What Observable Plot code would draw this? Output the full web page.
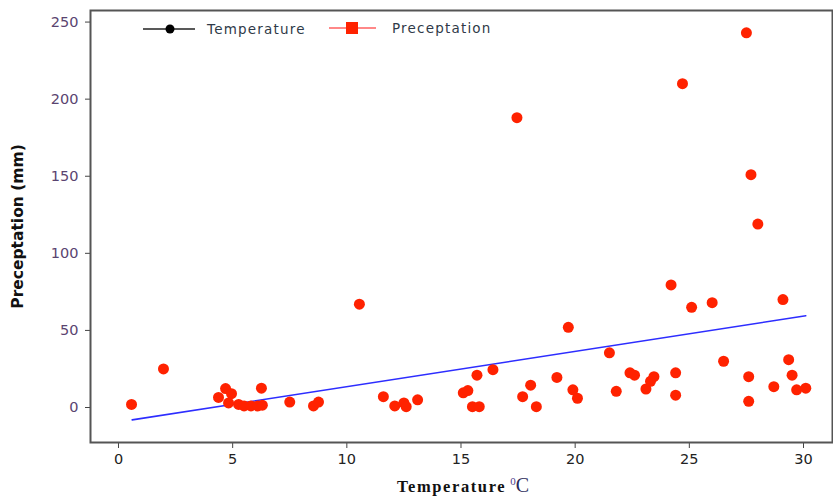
<!DOCTYPE html>
<html>
<head>
<meta charset="utf-8">
<script src="https://cdn.jsdelivr.net/npm/d3@7"></script>
<script src="https://cdn.jsdelivr.net/npm/@observablehq/plot@0.6"></script>
<style>
  html, body { margin: 0; padding: 0; background: white; }
  #wrap { position: relative; width: 833px; height: 497px; }
  #legend { position: absolute; left: 0; top: 0; pointer-events: none; }
</style>
</head>
<body>
<div id="wrap"></div>
<script>
// Temperature (°C) of each observation
const temperature = [
  0.57, 1.97, 4.38, 4.69, 4.95, 4.82, 5.26, 5.5, 5.8, 6.1, 6.26, 6.3, 7.5, 8.54, 8.76,
  10.55, 11.6, 12.1, 12.5, 12.6, 13.1, 15.1, 15.3, 15.5, 15.8, 15.7, 16.4, 17.45, 17.7,
  18.05, 18.3, 19.2, 19.7, 19.9, 20.1, 21.5, 21.8, 22.4, 22.6, 23.1, 23.3, 23.45, 24.2,
  24.4, 24.4, 24.7, 25.1, 26.0, 26.5, 27.5, 27.6, 27.6, 27.7, 28.0, 28.7, 29.1, 29.35,
  29.5, 29.7, 30.1
];
// Precipitation (mm) of each observation
const preceptation = [
  2, 25, 6.5, 12.3, 9, 3, 2, 1, 1, 1, 12.5, 1.5, 3.5, 1, 3.5,
  67, 7, 1, 3, 0.5, 5, 9.5, 11, 0.5, 0.5, 21, 24.5, 188, 7,
  14.5, 0.5, 19.5, 52, 11.5, 6, 35.5, 10.5, 22.5, 21, 12, 17, 20, 79.5,
  22.5, 8, 210, 65, 68, 30, 243, 20, 4, 151, 119, 13.5, 70, 31,
  21, 11.5, 12.5
];
// Fitted trend line end points
const trendX = [0.6, 30.1];
const trendY = [-8.0, 59.5];
// Tick values
const xTicks = [0, 5, 10, 15, 20, 25, 30];
const yTicks = [0, 50, 100, 150, 200, 250];

const points = temperature.map((t, i) => ({t, p: preceptation[i]}));
const trend = trendX.map((t, i) => ({t, p: trendY[i]}));

const chart = Plot.plot({
  width: 833,
  height: 497,
  marginLeft: 90,
  marginTop: 10,
  marginBottom: 55,
  marginRight: 1,
  style: {fontFamily: "DejaVu Sans, sans-serif", fontSize: "14.5px", background: "white"},
  x: {domain: [-1.226, 31.27]},
  y: {domain: [-22.7, 257.5]},
  marks: [
    Plot.axisX({ticks: xTicks, tickSize: 6, tickPadding: 5, label: null, stroke: "#444", color: "#222", fontSize: 14.5}),
    Plot.axisY({ticks: yTicks, tickSize: 5, tickPadding: 7, label: null, stroke: "#444", color: "#5a4470", fontSize: 14.5}),
    Plot.line(trend, {x: "t", y: "p", stroke: "#2d2dff", strokeWidth: 1.6}),
    Plot.dot(points, {x: "t", y: "p", r: 5.5, fill: "#ff2200", stroke: "none"}),
    Plot.frame({stroke: "#555", strokeWidth: 2}),
    Plot.text(["Preceptation (mm)"], {frameAnchor: "left", textAnchor: "middle", dx: -72, rotate: -90, fontWeight: "bold", fontSize: 15.5, fill: "#111"})
  ]
});
document.getElementById("wrap").appendChild(chart);

// x axis title with superscript
const svg = d3.select(chart);
const xt = svg.append("text")
  .attr("x", 463).attr("y", 492)
  .attr("text-anchor", "middle")
  .style("font-family", "Liberation Serif, serif");
xt.append("tspan").text("Temperature").style("font-weight", "bold").style("font-size", "16.5px")
  .style("letter-spacing", "1.6px").attr("fill", "#111");
xt.append("tspan").text(" ").style("font-size", "16px");
xt.append("tspan").text("0").style("font-size", "11px").attr("dy", -7).attr("fill", "#4a3a8a");
xt.append("tspan").text("C").style("font-size", "20px").attr("dy", 7).attr("fill", "#2a2a5a");

// legend overlay
const leg = d3.select("#wrap").append("svg").attr("id", "legend").attr("width", 833).attr("height", 60);
leg.append("line").attr("x1", 143).attr("x2", 195).attr("y1", 29).attr("y2", 29).attr("stroke", "#222").attr("stroke-width", 1.5);
leg.append("circle").attr("cx", 170).attr("cy", 29).attr("r", 4.5).attr("fill", "#000");
leg.append("text").attr("x", 207).attr("y", 34).text("Temperature")
  .style("font-family", "DejaVu Sans, sans-serif").style("font-size", "13.5px").style("letter-spacing", "1.2px").attr("fill", "#2f3a48");
leg.append("line").attr("x1", 329).attr("x2", 376).attr("y1", 28).attr("y2", 28).attr("stroke", "#ff6060").attr("stroke-width", 1.5);
leg.append("rect").attr("x", 346).attr("y", 22).attr("width", 12).attr("height", 12).attr("fill", "#ff2200");
leg.append("text").attr("x", 392).attr("y", 33).text("Preceptation")
  .style("font-family", "DejaVu Sans, sans-serif").style("font-size", "13.5px").style("letter-spacing", "1.2px").attr("fill", "#2f3a48");
</script>
</body>
</html>
